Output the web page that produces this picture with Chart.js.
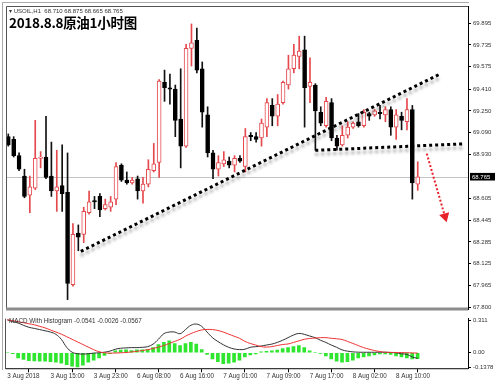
<!DOCTYPE html>
<html>
<head>
<meta charset="utf-8">
<script src="https://cdn.jsdelivr.net/npm/chart.js@4.4.0/dist/chart.umd.min.js"></script>
<style>
  body { margin: 0; background: #fff; width: 500px; height: 388px; overflow: hidden; position: relative; font-family: "Liberation Sans", Arial, sans-serif; }
  canvas { position: absolute; left: 0; }
  #main { top: 0; }
  #macd { top: 313px; }
  .frame { position: absolute; left: 2px; top: 2px; width: 466px; height: 367px; border-left: 1px solid #aaa; border-top: 1px solid #aaa; }
  .sym { position: absolute; left: 9px; top: 7px; font-size: 6px; color: #333; white-space: pre; }
  .title { position: absolute; left: 9px; top: 12px; font: bold 13.5px "Noto Sans CJK SC", sans-serif; letter-spacing: -0.3px; color: #000; }
  .macdlbl { position: absolute; left: 9px; top: 317px; font-size: 6.3px; color: #333; white-space: pre; }
</style>
</head>
<body>
<div class="frame"></div>
<canvas id="main" width="500" height="315"></canvas>
<canvas id="macd" width="500" height="75"></canvas>
<div class="sym">▾ USOIL,H1  68.710 68.875 68.665 68.765</div>
<div class="title">2018.8.8原油1小时图</div>
<div class="macdlbl">MACD With Histogram -0.0541 -0.0026 -0.0567</div>
<script>
// H1 candles, 3 Aug 07:00 .. 8 Aug 14:00
const opens  = [69.06, 69.04, 68.92, 68.77, 68.63, 68.68, 68.90, 68.91, 68.77, 68.66,
                68.70, 68.65, 67.97, 68.35, 68.34, 68.50, 68.59, 68.62, 68.53, 68.54,
                68.60, 68.85, 68.74, 68.72, 68.75, 68.66, 68.71, 68.81, 68.87, 69.46,
                69.42, 69.41, 69.19, 68.99, 69.71, 69.77, 69.56, 69.22, 68.94, 68.82,
                68.86, 68.88, 68.85, 68.90, 68.84, 69.07, 69.06, 69.05, 69.13, 69.29,
                69.21, 69.31, 69.44, 69.56, 69.65, 69.70, 69.43, 69.44, 69.24, 69.14,
                69.31, 69.05, 69.00, 69.07, 69.13, 69.17, 69.14, 69.23, 69.22, 69.24,
                69.22, 69.26, 69.13, 69.21, 69.17, 69.26, 68.710];
const highs  = [69.08, 69.06, 68.94, 68.82, 68.77, 69.18, 68.95, 69.21, 69.02, 68.96,
                69.00, 68.94, 68.42, 68.41, 68.54, 68.66, 68.62, 68.64, 68.60, 68.62,
                68.87, 68.86, 68.80, 68.76, 68.77, 68.76, 68.89, 69.01, 69.48, 69.55,
                69.52, 69.44, 69.56, 69.74, 69.89, 69.86, 69.61, 69.28, 68.96, 68.92,
                68.95, 68.91, 68.92, 68.92, 69.12, 69.09, 69.09, 69.19, 69.34, 69.34,
                69.37, 69.47, 69.66, 69.74, 69.80, 69.80, 69.64, 69.45, 69.28, 69.35,
                69.34, 69.07, 69.14, 69.17, 69.17, 69.23, 69.26, 69.24, 69.26, 69.29,
                69.28, 69.28, 69.26, 69.24, 69.34, 69.29, 68.875];
const lows   = [68.99, 68.91, 68.81, 68.61, 68.50, 68.67, 68.83, 68.75, 68.62, 68.51,
                68.51, 67.86, 67.96, 68.22, 68.28, 68.49, 68.53, 68.47, 68.52, 68.51,
                68.56, 68.73, 68.71, 68.71, 68.60, 68.57, 68.69, 68.80, 68.76, 69.32,
                69.30, 69.06, 68.83, 68.98, 69.58, 69.53, 69.13, 68.91, 68.75, 68.77,
                68.84, 68.83, 68.80, 68.87, 68.80, 69.03, 69.02, 68.99, 69.06, 69.14,
                69.14, 69.30, 69.41, 69.53, 69.56, 69.13, 69.31, 68.96, 69.14, 69.13,
                69.03, 68.96, 68.99, 69.05, 69.12, 69.13, 69.13, 69.18, 69.21, 69.19,
                69.17, 69.07, 69.04, 69.11, 69.11, 68.60, 68.665];
const closes = [69.00, 68.92, 68.82, 68.62, 68.69, 68.90, 68.91, 68.76, 68.66, 68.69,
                68.64, 67.98, 68.34, 68.32, 68.51, 68.58, 68.58, 68.52, 68.56, 68.58,
                68.84, 68.74, 68.72, 68.74, 68.66, 68.71, 68.82, 68.86, 69.47, 69.42,
                69.41, 69.18, 68.99, 69.71, 69.75, 69.55, 69.24, 68.94, 68.82, 68.87,
                68.89, 68.85, 68.90, 68.88, 69.06, 69.06, 69.04, 69.16, 69.31, 69.21,
                69.30, 69.46, 69.56, 69.66, 69.69, 69.42, 69.46, 69.25, 69.16, 69.32,
                69.05, 68.99, 69.07, 69.13, 69.16, 69.14, 69.24, 69.21, 69.25, 69.23,
                69.26, 69.13, 69.22, 69.18, 69.26, 68.72, 68.765];

// MACD panel
const macdLine = [0.318, 0.300, 0.287, 0.265, 0.246, 0.235, 0.224, 0.212, 0.200, 0.178,
                  0.130, 0.053, 0.006, -0.009, -0.012, -0.009, -0.003, 0.000, 0.006, 0.016,
                  0.034, 0.044, 0.047, 0.050, 0.050, 0.053, 0.059, 0.084, 0.131, 0.184,
                  0.200, 0.200, 0.184, 0.224, 0.265, 0.277, 0.255, 0.200, 0.146, 0.109,
                  0.078, 0.053, 0.037, 0.031, 0.034, 0.053, 0.059, 0.065, 0.075, 0.084,
                  0.100, 0.121, 0.146, 0.171, 0.187, 0.178, 0.162, 0.146, 0.121, 0.100,
                  0.075, 0.053, 0.028, 0.016, 0.009, 0.006, 0.005, 0.005, 0.005, 0.005,
                  0.005, 0.003, 0.000, -0.010, -0.015, -0.040, -0.054];
const signalLine = [0.318, 0.310, 0.300, 0.290, 0.280, 0.270, 0.255, 0.240, 0.220, 0.200,
                    0.180, 0.155, 0.130, 0.105, 0.080, 0.055, 0.030, 0.010, 0.000, -0.003,
                    -0.002, 0.000, 0.003, 0.008, 0.014, 0.022, 0.030, 0.042, 0.055, 0.070,
                    0.090, 0.110, 0.130, 0.160, 0.185, 0.205, 0.220, 0.225, 0.224, 0.215,
                    0.200, 0.180, 0.160, 0.140, 0.110, 0.090, 0.075, 0.060, 0.055, 0.060,
                    0.070, 0.080, 0.085, 0.100, 0.115, 0.130, 0.138, 0.142, 0.146, 0.146,
                    0.140, 0.135, 0.128, 0.110, 0.090, 0.070, 0.050, 0.035, 0.022, 0.012,
                    0.006, 0.004, 0.003, 0.002, 0.001, -0.001, -0.0026];
const histogram = [0.000, -0.008, -0.050, -0.065, -0.075, -0.078, -0.080, -0.080, -0.085, -0.090,
                   -0.100, -0.115, -0.128, -0.135, -0.120, -0.090, -0.070, -0.050, -0.025, -0.008,
                   0.018, 0.025, 0.028, 0.022, 0.028, 0.028, 0.030, 0.050, 0.080, 0.100,
                   0.115, 0.090, 0.070, 0.090, 0.100, 0.085, 0.030, -0.015, -0.060, -0.085,
                   -0.105, -0.100, -0.090, -0.070, -0.040, -0.020, -0.010, 0.010, 0.015, 0.020,
                   0.025, 0.040, 0.050, 0.060, 0.070, 0.050, 0.020, 0.005, -0.005, -0.030,
                   -0.060, -0.080, -0.090, -0.085, -0.070, -0.050, -0.040, -0.030, -0.020, -0.010,
                   -0.010, -0.015, -0.030, -0.040, -0.050, -0.060, -0.0567];

// axes
const priceTicks = [69.895, 69.735, 69.575, 69.410, 69.250, 69.090, 68.930, 68.605, 68.445, 68.285, 68.125, 67.965, 67.800];
const macdTicks = [0.311, 0, -0.1378];
const macdTickText = ['0.311', '0.00', '-0.1378'];
const timeIdx = [0, 8, 16, 24, 32, 40, 48, 56, 64, 72];
const timeLabels = ['3 Aug 2018', '3 Aug 15:00', '3 Aug 23:00', '6 Aug 08:00', '6 Aug 16:00',
                    '7 Aug 01:00', '7 Aug 09:00', '7 Aug 17:00', '8 Aug 02:00', '8 Aug 10:00'];

// drawn lines (bar index, price)
const trendLine = [{ x: 13.46, y: 68.215 }, { x: 80.13, y: 69.521 }];
const neckLine = [{ x: 56.98, y: 68.959 }, { x: 84.4, y: 69.007 }];
const arrowLine = [{ x: 77.67, y: 68.935 }, { x: 81.06, y: 68.472 }];

const lastPrice = closes[closes.length - 1];
const xMin = -0.426, xMax = 85.33;
const RED = '#e5484d';

Chart.defaults.font.family = '"Liberation Sans", Arial, sans-serif';
Chart.defaults.color = '#333';

const idx = opens.map((_, i) => i);
const isUp = idx.map(i => closes[i] >= opens[i]);

// shadow under the black dotted lines
const shadowPlugin = {
  id: 'shadow',
  beforeDatasetDraw(chart, args) {
    const ds = chart.data.datasets[args.index];
    if (!ds.shadow) return;
    const ctx = chart.ctx;
    ctx.save();
    ctx.shadowColor = 'rgba(0,0,0,0.35)';
    ctx.shadowBlur = 3;
    ctx.shadowOffsetY = 4;
  },
  afterDatasetDraw(chart, args) {
    if (chart.data.datasets[args.index].shadow) chart.ctx.restore();
  }
};

const mainDeco = {
  id: 'mainDeco',
  beforeDatasetsDraw(chart) {
    const { ctx, chartArea: a, scales } = chart;
    const y = Math.round(scales.y.getPixelForValue(lastPrice)) + 0.5;
    ctx.save();
    ctx.strokeStyle = '#c4c4c4';
    ctx.lineWidth = 1;
    ctx.beginPath();
    ctx.moveTo(a.left, y);
    ctx.lineTo(a.right, y);
    ctx.stroke();
    ctx.restore();
  },
  afterDraw(chart) {
    const { ctx, chartArea: a, scales } = chart;
    ctx.save();
    ctx.strokeStyle = '#555';
    ctx.lineWidth = 1;
    ctx.beginPath();
    ctx.moveTo(a.left + 0.5, a.bottom);
    ctx.lineTo(a.left + 0.5, a.top + 0.5);
    ctx.lineTo(a.right, a.top + 0.5);
    ctx.stroke();
    ctx.strokeStyle = '#8c8c8c';
    ctx.lineWidth = 3;
    ctx.beginPath();
    ctx.moveTo(a.left, a.bottom);
    ctx.lineTo(a.right, a.bottom);
    ctx.stroke();
    // current price tag
    const y = scales.y.getPixelForValue(lastPrice);
    ctx.fillStyle = '#000';
    ctx.fillRect(a.right + 2, y - 3.8, 25, 7.6);
    ctx.fillStyle = '#fff';
    ctx.font = '6px "Liberation Sans", Arial, sans-serif';
    ctx.textBaseline = 'middle';
    ctx.fillText(lastPrice.toFixed(3), a.right + 4, y + 0.3);
    ctx.restore();
  }
};

new Chart(document.getElementById('main'), {
  type: 'bar',
  data: {
    datasets: [
      {
        type: 'line', data: trendLine, order: 0, shadow: true,
        borderColor: '#000', borderWidth: 3, borderDash: [3, 3], pointRadius: 0
      },
      {
        type: 'line', data: neckLine, order: 0, shadow: true,
        borderColor: '#000', borderWidth: 3, borderDash: [3, 3], pointRadius: 0
      },
      {
        type: 'line', data: arrowLine, order: 0,
        borderColor: '#e8222a', borderWidth: 2, borderDash: [2, 2],
        pointRadius: [0, 6], pointStyle: 'triangle', rotation: [0, 164],
        pointBackgroundColor: '#e8222a', pointBorderColor: '#e8222a', pointBorderWidth: 0
      },
      {
        data: idx.map(i => ({ x: i, y: [opens[i], closes[i]] })),
        order: 1, grouped: false, barThickness: 4, minBarLength: 1,
        backgroundColor: isUp.map(u => u ? '#fff' : '#000'),
        borderColor: isUp.map(u => u ? RED : '#000'),
        borderWidth: 1, borderSkipped: false
      },
      {
        data: idx.map(i => ({ x: i, y: [lows[i], highs[i]] })),
        order: 2, grouped: false, barThickness: 1,
        backgroundColor: isUp.map(u => u ? RED : '#111')
      }
    ]
  },
  options: {
    responsive: false,
    animation: false,
    events: [],
    layout: { padding: { left: 5, top: 3, right: 0, bottom: 2 } },
    plugins: { legend: { display: false }, tooltip: { enabled: false } },
    scales: {
      x: { type: 'linear', min: xMin, max: xMax, offset: false, display: false },
      y: {
        position: 'right', min: 67.791, max: 70.022,
        afterBuildTicks: s => { s.ticks = priceTicks.map(v => ({ value: v })); },
        afterFit: s => { s.width = 32; },
        ticks: { callback: v => v.toFixed(3), font: { size: 6 }, color: '#333', padding: 2, autoSkip: false },
        grid: { drawOnChartArea: false, tickLength: 3, color: '#000' },
        border: { color: '#000' }
      }
    }
  },
  plugins: [shadowPlugin, mainDeco]
});

const macdDeco = {
  id: 'macdDeco',
  afterDraw(chart) {
    const { ctx, chartArea: a } = chart;
    ctx.save();
    ctx.strokeStyle = '#555';
    ctx.lineWidth = 1;
    ctx.beginPath();
    ctx.moveTo(a.left + 0.5, a.top);
    ctx.lineTo(a.left + 0.5, a.bottom + 0.5);
    ctx.lineTo(a.right, a.bottom + 0.5);
    ctx.stroke();
    ctx.restore();
  }
};

new Chart(document.getElementById('macd'), {
  type: 'bar',
  data: {
    datasets: [
      {
        type: 'line', data: idx.map(i => ({ x: i, y: signalLine[i] })), order: 0,
        borderColor: '#e33', borderWidth: 1, pointRadius: 0, tension: 0.4
      },
      {
        type: 'line', data: idx.map(i => ({ x: i, y: macdLine[i] })), order: 0,
        borderColor: '#333', borderWidth: 1, pointRadius: 0, tension: 0.4
      },
      {
        data: idx.map(i => ({ x: i, y: histogram[i] })), order: 1,
        barThickness: 3, backgroundColor: '#2fe62f'
      }
    ]
  },
  options: {
    responsive: false,
    animation: false,
    events: [],
    layout: { padding: { left: 5, top: 4, right: 0, bottom: 0 } },
    plugins: { legend: { display: false }, tooltip: { enabled: false } },
    scales: {
      x: {
        type: 'linear', min: xMin, max: xMax, offset: false,
        afterBuildTicks: s => { s.ticks = timeIdx.map(v => ({ value: v })); },
        afterFit: s => { s.height = 19.7; },
        ticks: {
          callback: v => timeLabels[timeIdx.indexOf(v)],
          align: 'start', maxRotation: 0, autoSkip: false, padding: 0,
          font: { size: 6.3 }, color: '#333'
        },
        grid: { drawOnChartArea: false, tickLength: 4, color: '#000' },
        border: { color: '#000' }
      },
      y: {
        position: 'right', min: -0.1495, max: 0.3297,
        afterBuildTicks: s => { s.ticks = macdTicks.map(v => ({ value: v })); },
        afterFit: s => { s.width = 32; },
        ticks: { callback: v => macdTickText[macdTicks.indexOf(v)], font: { size: 6 }, color: '#333', padding: 2, autoSkip: false },
        grid: { drawOnChartArea: false, tickLength: 3, color: '#000' },
        border: { color: '#000' }
      }
    }
  },
  plugins: [macdDeco]
});
</script>
</body>
</html>
